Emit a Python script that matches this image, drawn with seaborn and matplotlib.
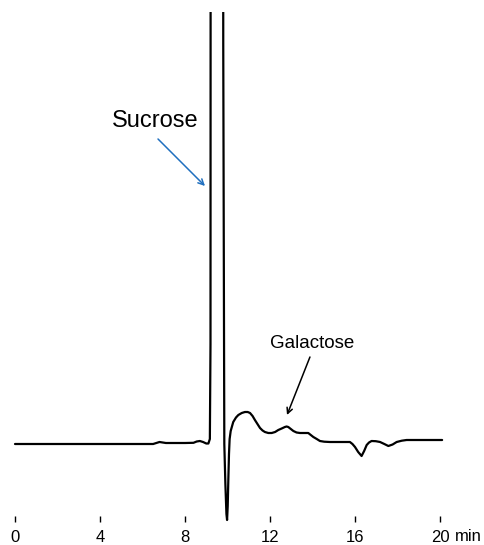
import pandas as pd
import numpy as np
import matplotlib
matplotlib.use("Agg")
import matplotlib.pyplot as plt
import seaborn as sns

# chromatogram trace (time in min, detector signal, arbitrary units)
time_min = [0.0, 6.5, 6.65, 6.8, 6.95, 7.1, 7.5, 8.0, 8.4, 8.55, 8.7, 8.85, 9.0, 9.1,
            9.17, 9.2, 9.22, 9.5, 9.77, 9.8, 9.85, 9.9, 9.95, 9.98, 10.01, 10.04,
            10.07, 10.1, 10.15, 10.27, 10.4, 10.51, 10.67, 10.82, 10.95, 11.06, 11.18,
            11.29, 11.41, 11.53, 11.65, 11.76, 11.92, 12.08, 12.24, 12.39, 12.55, 12.7,
            12.78, 12.86, 12.98, 13.1, 13.25, 13.41, 13.6, 13.8, 13.92, 14.04, 14.2,
            14.35, 14.55, 14.82, 15.3, 15.76, 15.88, 16.0, 16.15, 16.31, 16.43, 16.55,
            16.66, 16.78, 16.98, 17.18, 17.38, 17.57, 17.77, 17.96, 18.2, 18.43, 19.2,
            20.1]
signal = [0, 0, 1, 2, 1.5, 1, 1, 1, 1.2, 2.5, 3, 2, 0.5, 0.5,
          5, 100, 1500, 3000, 1500, 400, 0, -40, -70, -76, -62, -35,
          -10, 5, 13, 22, 26.5, 29, 31, 32, 32, 31, 28,
          24, 20, 16, 13.5, 12, 11, 11, 12, 14, 15.5, 17,
          17.5, 17, 15, 13, 11.5, 11, 11, 11, 9, 7, 5,
          3, 2.3, 2, 2, 2, 0, -3, -8, -12, -7, -1,
          1.5, 3, 2.8, 2, 0, -2, -0.5, 2, 3.3, 4, 4,
          4]
tick_values = [0, 4, 8, 12, 16, 20]

df = pd.DataFrame({"time": time_min, "signal": signal})

sns.set_style("white")
plt.rcParams["font.family"] = ["Liberation Sans", "DejaVu Sans"]
plt.rcParams["text.color"] = "black"
plt.rcParams["xtick.color"] = "black"

fig = plt.figure(figsize=(4.85, 5.45), dpi=100)
ax = fig.add_axes([0, 23 / 545, 1, 510 / 545])

sns.lineplot(data=df, x="time", y="signal", color="black", lw=1.6, ax=ax,
             sort=False, estimator=None)
for line in ax.lines:
    line.set_solid_joinstyle("round")

ax.set_xlim(-15 / 21.25, 470 / 21.25)
ax.set_ylim(-78, 432)
ax.set_xticks(tick_values)
ax.set_xticklabels([str(v) for v in tick_values])
ax.set_yticks([])
ax.tick_params(axis="x", direction="in", length=4.3, width=1, color="black",
               labelcolor="black", labelsize=12, pad=5.5, bottom=True)
ax.set_xlabel("")
ax.set_ylabel("")
for s in ax.spines.values():
    s.set_visible(False)

ax.text(20.68, -0.028, "min", transform=ax.get_xaxis_transform(),
        ha="left", va="center", fontsize=12, color="black")

# Sucrose label + arrow
ax.text(6.6, 323, "Sucrose", ha="center", va="center", fontsize=17, color="black")
ax.annotate("", xy=(8.94, 258), xytext=(6.73, 305),
            arrowprops=dict(arrowstyle="->", color="#1f6fbf", lw=1.1,
                            shrinkA=0, shrinkB=0))

# Galactose label + arrow
ax.text(13.98, 101, "Galactose", ha="center", va="center", fontsize=13.5, color="black")
ax.annotate("", xy=(12.8, 29), xytext=(13.88, 87),
            arrowprops=dict(arrowstyle="->", color="black", lw=1.1,
                            shrinkA=0, shrinkB=0))

fig.savefig("out.png", dpi=100)
